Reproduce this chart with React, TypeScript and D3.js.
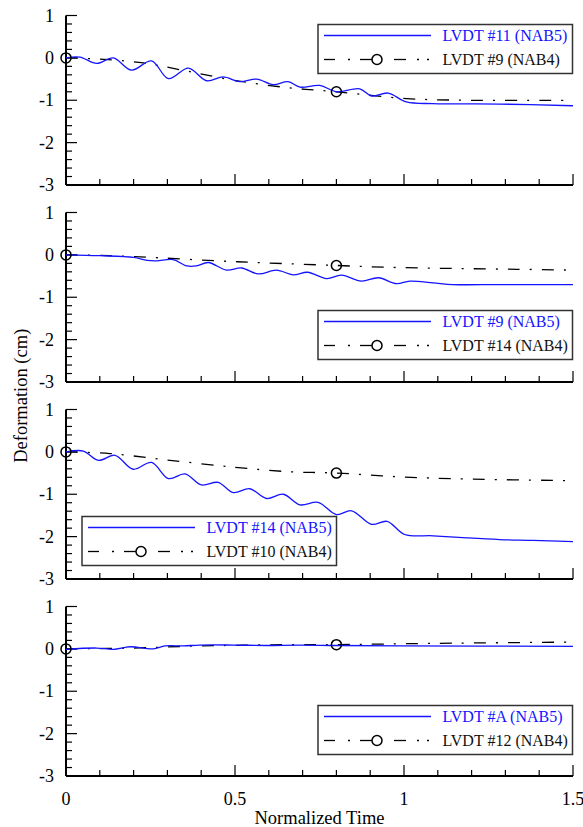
import React from 'react';
import * as d3 from 'd3';

// ---- data (x = normalized time, y = deformation cm) ----
const p1Blue: [number, number][] = [
  [0, 0], [0.041, 0.02], [0.091, -0.13], [0.14, 0], [0.194, -0.29], [0.253, -0.07],
  [0.303, -0.49], [0.362, -0.24], [0.416, -0.54], [0.465, -0.45], [0.514, -0.56],
  [0.564, -0.5], [0.613, -0.63], [0.657, -0.56], [0.692, -0.69], [0.751, -0.65],
  [0.8, -0.8], [0.869, -0.73], [0.904, -0.9], [0.953, -0.83], [1.007, -1.04],
  [1.086, -1.08], [1.283, -1.09], [1.5, -1.13],
];
const p1Black: [number, number][] = [
  [0, 0], [0.1, -0.03], [0.229, -0.12], [0.357, -0.31], [0.497, -0.53], [0.653, -0.7],
  [0.8, -0.8], [1.007, -0.96], [1.185, -1.0], [1.5, -1.0],
];
const p2Blue: [number, number][] = [
  [0, 0], [0.1, -0.02], [0.2, -0.06], [0.24, -0.13], [0.268, -0.14], [0.317, -0.11],
  [0.357, -0.26], [0.386, -0.26], [0.421, -0.18], [0.475, -0.36], [0.519, -0.31],
  [0.569, -0.45], [0.623, -0.36], [0.672, -0.47], [0.715, -0.41], [0.771, -0.56],
  [0.815, -0.48], [0.874, -0.62], [0.924, -0.54], [0.978, -0.68], [1.017, -0.62],
  [1.086, -0.66], [1.145, -0.7], [1.283, -0.7], [1.5, -0.7],
];
const p2Black: [number, number][] = [
  [0, 0], [0.13, -0.02], [0.278, -0.07], [0.445, -0.14], [0.593, -0.19], [0.8, -0.25],
  [0.938, -0.29], [1.135, -0.32], [1.333, -0.34], [1.5, -0.36],
];
const p3Blue: [number, number][] = [
  [0, 0], [0.051, 0.02], [0.096, -0.2], [0.145, -0.08], [0.199, -0.41], [0.253, -0.25],
  [0.303, -0.63], [0.352, -0.52], [0.401, -0.78], [0.45, -0.72], [0.495, -0.96],
  [0.544, -0.87], [0.593, -1.1], [0.643, -1.0], [0.692, -1.25], [0.746, -1.19],
  [0.8, -1.48], [0.845, -1.39], [0.904, -1.71], [0.95, -1.64], [1.002, -1.95],
  [1.086, -1.98], [1.185, -2.03], [1.283, -2.07], [1.382, -2.09], [1.5, -2.12],
];
const p3Black: [number, number][] = [
  [0, 0], [0.13, -0.04], [0.297, -0.19], [0.495, -0.36], [0.663, -0.47], [0.8, -0.5],
  [0.988, -0.59], [1.185, -0.64], [1.5, -0.68],
];
const p4Blue: [number, number][] = [
  [0, -0.01], [0.091, 0.02], [0.14, -0.01], [0.19, 0.05], [0.258, 0.0], [0.293, 0.07],
  [0.347, 0.07], [0.396, 0.09], [0.495, 0.09], [0.593, 0.08], [0.69, 0.09],
  [0.8, 0.08], [0.988, 0.07], [1.5, 0.06],
];
const p4Black: [number, number][] = [
  [0, 0], [0.2, 0.02], [0.4, 0.07], [0.69, 0.1], [0.8, 0.1], [1.086, 0.13], [1.5, 0.16],
];
const markerX = [0, 0.8];
const blueLabels = ['LVDT #11 (NAB5)', 'LVDT #9 (NAB5)', 'LVDT #14 (NAB5)', 'LVDT #A (NAB5)'];
const blackLabels = ['LVDT #9 (NAB4)', 'LVDT #14 (NAB4)', 'LVDT #10 (NAB4)', 'LVDT #12 (NAB4)'];
const yTicks = [1, 0, -1, -2, -3];
const xTicks = [0, 0.5, 1, 1.5];

const panels = [
  { blue: p1Blue, black: p1Black, legend: { x: 318, y: 9 } },
  { blue: p2Blue, black: p2Black, legend: { x: 318, y: 98 } },
  { blue: p3Blue, black: p3Black, legend: { x: 82, y: 107 } },
  { blue: p4Blue, black: p4Black, legend: { x: 318, y: 99 } },
];

const W = 583;
const H = 827;
const left = 66;
const right = 573;
const top0 = 15.5;
const step = 197;
const ph = 169.5;
const font = '"Liberation Serif", "Times New Roman", serif';
const BLUE = '#1414ff';
const DASH = '12,10,2,10';

const x = d3.scaleLinear().domain([0, 1.5]).range([left, right]);

function interpY(pts: [number, number][], xv: number) {
  for (let i = 1; i < pts.length; i++) {
    if (xv <= pts[i][0]) {
      const [x0, y0] = pts[i - 1];
      const [x1, y1] = pts[i];
      return y0 + ((xv - x0) / (x1 - x0)) * (y1 - y0);
    }
  }
  return pts[pts.length - 1][1];
}

// legend sample for the dash-dot series, drawn piece by piece like the original
const dashBits = [[6, 17], [30, 32], [42, 59], [76, 88], [99, 101], [109, 111]];

const Panel = ({ idx }: { idx: number }) => {
  const p = panels[idx];
  const top = top0 + idx * step;
  const y = d3.scaleLinear().domain([-3, 1]).range([top + ph, top]);
  const line = d3.line<[number, number]>().x(d => x(d[0])).y(d => y(d[1])).curve(d3.curveCatmullRom);
  const minorY = d3.range(-3, 1.001, 0.2);
  const minorX = d3.range(0, 1.501, 0.1);
  const bottom = y(-3);
  const lg = p.legend;
  const lx = lg.x;
  const ly = top + lg.y;
  return (
    <g>
      {/* axes */}
      <line x1={left} x2={left} y1={y(1)} y2={bottom} stroke="#000" strokeWidth={2} />
      <line x1={left} x2={right} y1={bottom} y2={bottom} stroke="#000" strokeWidth={2} />
      {minorY.map((v, i) => {
        const major = Math.abs(v - Math.round(v)) < 1e-6;
        return <line key={'y' + i} x1={left} x2={left + (major ? 11 : 6)} y1={y(v)} y2={y(v)} stroke="#000" strokeWidth={1.2} />;
      })}
      {minorX.map((v, i) => {
        const major = Math.abs(v * 2 - Math.round(v * 2)) < 1e-6;
        return <line key={'x' + i} x1={x(v)} x2={x(v)} y1={bottom} y2={bottom - (major ? 11 : 6)} stroke="#000" strokeWidth={1.2} />;
      })}
      {yTicks.map(v => (
        <text key={'yl' + v} x={left - 12} y={y(v)} dy="0.34em" textAnchor="end" fontSize={18} fontFamily={font}>{v}</text>
      ))}
      {/* series */}
      <path d={line(p.black) || ''} fill="none" stroke="#000" strokeWidth={1.3} strokeDasharray={DASH} />
      <path d={line(p.blue) || ''} fill="none" stroke={BLUE} strokeWidth={1.3} />
      {markerX.map(mx => (
        <circle key={'m' + mx} cx={x(mx)} cy={y(interpY(p.black, mx))} r={5} fill="none" stroke="#000" strokeWidth={1.5} />
      ))}
      {/* legend */}
      <rect x={lx} y={ly} width={254.5} height={49} fill="#fff" stroke="#333" strokeWidth={1.5} />
      <line x1={lx + 6} x2={lx + 113} y1={ly + 11} y2={ly + 11} stroke={BLUE} strokeWidth={1.3} />
      <text x={lx + 124.5} y={ly + 11} dy="0.34em" fontSize={16} fontFamily={font} fill={BLUE}>{blueLabels[idx]}</text>
      {dashBits.map(([a, b], i) => (
        <line key={'d' + i} x1={lx + a} x2={lx + b} y1={ly + 35} y2={ly + 35} stroke="#000" strokeWidth={1.3} />
      ))}
      <circle cx={lx + 59} cy={ly + 35} r={5} fill="#fff" stroke="#000" strokeWidth={1.5} />
      <text x={lx + 124.5} y={ly + 35} dy="0.34em" fontSize={16} fontFamily={font} fill="#111">{blackLabels[idx]}</text>
    </g>
  );
};

export default function App() {
  const lastBottom = top0 + 3 * step + ph;
  return (
    <svg width={W} height={H} style={{ position: 'absolute', left: 0, top: 0, background: '#fff' }}>
      <rect width={W} height={H} fill="#fff" />
      {panels.map((_, i) => <Panel key={i} idx={i} />)}
      {xTicks.map(v => (
        <text key={'xl' + v} x={x(v)} y={lastBottom + 29} textAnchor="middle" fontSize={18} fontFamily={font}>{v}</text>
      ))}
      <text x={(left + right) / 2} y={lastBottom + 48} textAnchor="middle" fontSize={18.5} fontFamily={font}>Normalized Time</text>
      <text transform={`translate(21,${(top0 + lastBottom) / 2}) rotate(-90)`} textAnchor="middle" dy="0.34em" fontSize={18.5} fontFamily={font}>Deformation (cm)</text>
    </svg>
  );
}
